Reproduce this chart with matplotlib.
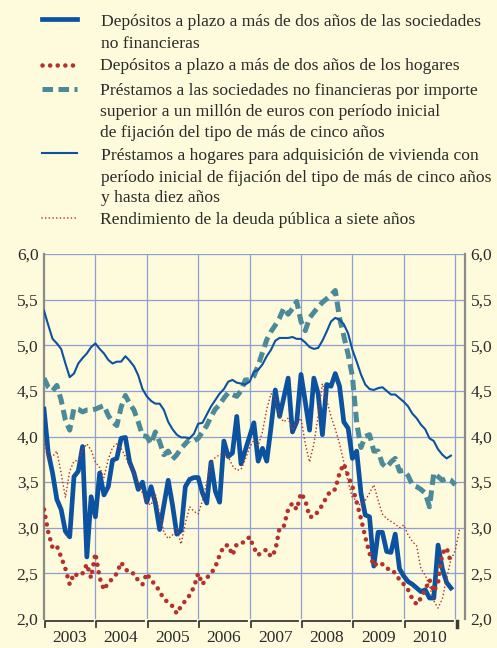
import matplotlib.pyplot as plt
import numpy as np
from matplotlib.lines import Line2D
from matplotlib.transforms import blended_transform_factory

plt.rcParams['font.family'] = ['Liberation Serif', 'DejaVu Serif']

# monthly series, January 2003 onwards (percent)
START_YEAR = 2003
YEARS = list(range(2003, 2011))
YTICKS = [2.0, 2.5, 3.0, 3.5, 4.0, 4.5, 5.0, 5.5, 6.0]
YTICK_LABELS = ["2,0", "2,5", "3,0", "3,5", "4,0", "4,5", "5,0", "5,5", "6,0"]

dep_nfc = [
    4.30, 3.82, 3.60, 3.31, 3.20, 2.96, 2.90, 3.56, 3.62, 3.89, 2.68, 3.34,
    3.12, 3.60, 3.36, 3.45, 3.74, 3.76, 3.98, 3.99, 3.72, 3.60, 3.42, 3.50,
    3.28, 3.45, 3.27, 2.98, 3.25, 3.52, 3.25, 2.93, 2.97, 3.45, 3.53, 3.55,
    3.55, 3.38, 3.27, 3.72, 3.40, 3.28, 3.95, 3.78, 3.82, 4.22, 3.70, 3.85,
    4.00, 4.15, 3.73, 3.87, 3.73, 4.10, 4.51, 4.22, 4.43, 4.64, 4.05, 4.16,
    4.68, 4.38, 4.07, 4.64, 4.47, 4.02, 4.57, 4.55, 4.69, 4.55, 4.16, 4.09,
    3.76, 3.84, 3.38, 3.14, 3.12, 2.58, 2.95, 2.95, 2.74, 2.73, 2.93, 2.55,
    2.47, 2.41, 2.38, 2.34, 2.30, 2.32, 2.23, 2.23, 2.81, 2.55, 2.40, 2.34,
]
dep_hh = [
    3.20, 2.95, 2.78, 2.80, 2.68, 2.55, 2.38, 2.50, 2.47, 2.50, 2.60, 2.45,
    2.72, 2.45, 2.32, 2.40, 2.44, 2.50, 2.62, 2.55, 2.50, 2.50, 2.42, 2.38,
    2.50, 2.42, 2.38, 2.30, 2.22, 2.18, 2.14, 2.06, 2.14, 2.20, 2.26, 2.35,
    2.50, 2.38, 2.45, 2.50, 2.57, 2.70, 2.80, 2.81, 2.70, 2.82, 2.83, 2.85,
    2.90, 2.78, 2.70, 2.74, 2.76, 2.68, 2.75, 3.00, 3.02, 3.20, 3.27, 3.20,
    3.38, 3.30, 3.12, 3.12, 3.18, 3.25, 3.34, 3.41, 3.42, 3.60, 3.70, 3.57,
    3.45, 3.28, 3.10, 2.90, 2.72, 2.58, 2.62, 2.60, 2.55, 2.55, 2.50, 2.43,
    2.38, 2.32, 2.22, 2.16, 2.23, 2.32, 2.43, 2.30, 2.40, 2.72, 2.78, 2.62,
]
loans_nfc = [
    4.64, 4.54, 4.50, 4.56, 4.40, 4.18, 4.07, 4.31, 4.30, 4.27, 4.29, 4.29,
    4.30, 4.32, 4.34, 4.23, 4.16, 4.12, 4.32, 4.45, 4.36, 4.29, 4.16, 4.01,
    4.00, 3.92, 4.05, 3.94, 3.80, 3.84, 3.75, 3.80, 3.87, 3.92, 3.97, 3.95,
    3.98, 4.05, 4.12, 4.22, 4.30, 4.35, 4.42, 4.48, 4.46, 4.44, 4.50, 4.62,
    4.62, 4.66, 4.78, 4.92, 5.06, 5.15, 5.22, 5.30, 5.41, 5.34, 5.40, 5.48,
    5.26, 5.16, 5.30, 5.36, 5.42, 5.47, 5.51, 5.55, 5.60, 5.30, 5.10, 4.90,
    4.66, 4.15, 3.88, 4.00, 4.02, 3.84, 3.84, 3.70, 3.66, 3.72, 3.76, 3.62,
    3.63, 3.57, 3.47, 3.45, 3.42, 3.38, 3.23, 3.60, 3.56, 3.52, 3.54, 3.52,
    3.47,
]
loans_hh = [
    5.38, 5.22, 5.07, 5.02, 4.96, 4.80, 4.65, 4.69, 4.80, 4.86, 4.91, 4.98,
    5.02, 4.96, 4.91, 4.84, 4.80, 4.82, 4.82, 4.88, 4.83, 4.77, 4.67, 4.52,
    4.44, 4.39, 4.36, 4.36, 4.29, 4.16, 4.08, 4.02, 3.99, 3.99, 3.98, 4.03,
    4.14, 4.15, 4.24, 4.33, 4.40, 4.47, 4.52, 4.60, 4.62, 4.59, 4.58, 4.57,
    4.60, 4.71, 4.73, 4.79, 4.88, 4.95, 5.05, 5.08, 5.08, 5.08, 5.09, 5.07,
    5.07, 5.03, 4.98, 4.96, 4.97, 5.05, 5.15, 5.26, 5.30, 5.28, 5.23, 5.13,
    4.95, 4.82, 4.68, 4.57, 4.52, 4.51, 4.53, 4.54, 4.50, 4.46, 4.46, 4.42,
    4.38, 4.33, 4.25, 4.20, 4.13, 4.08, 3.98, 3.95, 3.86, 3.80, 3.76, 3.79,
]
bond_7y = [
    3.95, 3.75, 3.78, 3.84, 3.60, 3.33, 3.62, 3.73, 3.74, 3.85, 3.92, 3.85,
    3.72, 3.66, 3.55, 3.75, 3.88, 3.92, 3.87, 3.78, 3.68, 3.60, 3.48, 3.38,
    3.27, 3.25, 3.37, 3.15, 2.95, 2.88, 2.92, 2.99, 2.82, 3.05, 3.23, 3.18,
    3.15, 3.30, 3.50, 3.72, 3.77, 3.80, 3.81, 3.78, 3.68, 3.63, 3.64, 3.75,
    3.88, 3.96, 3.90, 4.05, 4.30, 4.47, 4.42, 4.22, 4.16, 4.20, 4.07, 4.15,
    4.20, 3.92, 3.72, 3.92, 4.22, 4.58, 4.40, 4.22, 4.08, 3.92, 3.72, 3.50,
    3.33, 3.30, 3.23, 3.30, 3.38, 3.47, 3.30, 3.15, 3.10, 3.07, 3.04, 3.00,
    3.03, 2.92, 2.85, 2.80, 2.55, 2.48, 2.36, 2.20, 2.12, 2.22, 2.45, 2.65,
    2.75, 2.98,
]

LABELS = [
    ["Depósitos a plazo a más de dos años de las sociedades", "no financieras"],
    ["Depósitos a plazo a más de dos años de los hogares"],
    ["Préstamos a las sociedades no financieras por importe",
     "superior a un millón de euros con período inicial",
     "de fijación del tipo de más de cinco años"],
    ["Préstamos a hogares para adquisición de vivienda con",
     "período inicial de fijación del tipo de más de cinco años",
     "y hasta diez años"],
    ["Rendimiento de la deuda pública a siete años"],
]

BG = "#fefadc"
BLUE = "#0b52a0"
TEAL = "#4b8a99"
RED = "#b3332c"
GRID = "#8e9fd6"
TXT = "#2b2b2b"


def months(series):
    return START_YEAR + np.arange(len(series)) / 12.0


W, H = 497, 648
fig = plt.figure(figsize=(W / 100, H / 100), dpi=100, facecolor=BG)
ax = fig.add_axes([44 / W, 29 / H, 421 / W, 365 / H], facecolor=BG)

styles = [
    dict(color=BLUE, lw=3.4, solid_joinstyle="round"),
    dict(color=RED, lw=3.3, ls=(0, (0.01, 1.65)), dash_capstyle="round"),
    dict(color=TEAL, lw=3.6, ls=(0, (2.1, 1.1)), dash_capstyle="butt"),
    dict(color=BLUE, lw=1.5),
    dict(color=RED, lw=1.2, ls=(0, (0.01, 2.2)), dash_capstyle="round"),
]
series = [dep_nfc, dep_hh, loans_nfc, loans_hh, bond_7y]
order = [1, 4, 2, 3, 0]
for i in order:
    ax.plot(months(series[i]), series[i], zorder=3 + i, **styles[i])

ax.set_xlim(START_YEAR, START_YEAR + 421 / 51.4)
ax.set_ylim(2, 6)

# grid
for v in YTICKS[1:]:
    ax.axhline(v, color=GRID, lw=0.9, zorder=1)
for y in YEARS[1:] + [YEARS[-1] + 1]:
    ax.axvline(y, color=GRID, lw=0.9, zorder=1)

for s in ["top", "bottom"]:
    ax.spines[s].set_visible(False)
for s in ["left", "right"]:
    ax.spines[s].set_color("#8a8a8a")
    ax.spines[s].set_linewidth(1.6)

ax.set_yticks(YTICKS)
ax.set_yticklabels(YTICK_LABELS)
ax.tick_params(axis="y", length=0, labelsize=12.5, labelcolor=TXT,
               left=False, right=False, labelleft=True, labelright=True, pad=4)

ax.set_xticks([y + 0.5 for y in YEARS])
ax.set_xticklabels([str(y) for y in YEARS])
ax.tick_params(axis="x", length=0, labelsize=12.5, labelcolor=TXT, pad=8)

# year brackets under the axis
tr = blended_transform_factory(ax.transData, ax.transAxes)
for y in YEARS:
    ax.plot([y + 0.02, y + 0.02, y + 0.95], [-0.022, -0.005, -0.005],
            color="#3a3a3a", lw=1.3, transform=tr, clip_on=False)
ax.plot([YEARS[-1] + 1.04, YEARS[-1] + 1.04], [-0.022, -0.005],
        color="#3a3a3a", lw=2.5, transform=tr, clip_on=False)

# legend drawn by hand
handle_y = [19, 65, 89, 153, 218]
base_y = [[26.5, 48], [69.5], [95, 116, 137], [159.5, 181.5, 202], [224]]
text_x = [101, 100, 100, 101, 100]
for st, hy, lines, bys, tx in zip(styles, handle_y, LABELS, base_y, text_x):
    fig.add_artist(Line2D([42 / W, 77 / W], [1 - hy / H, 1 - hy / H],
                          transform=fig.transFigure, **st))
    for line, by in zip(lines, bys):
        fig.text(tx / W, 1 - by / H, line, fontsize=12.6, color=TXT,
                 ha="left", va="baseline")

fig.savefig("out.png", dpi=100, facecolor=BG)
